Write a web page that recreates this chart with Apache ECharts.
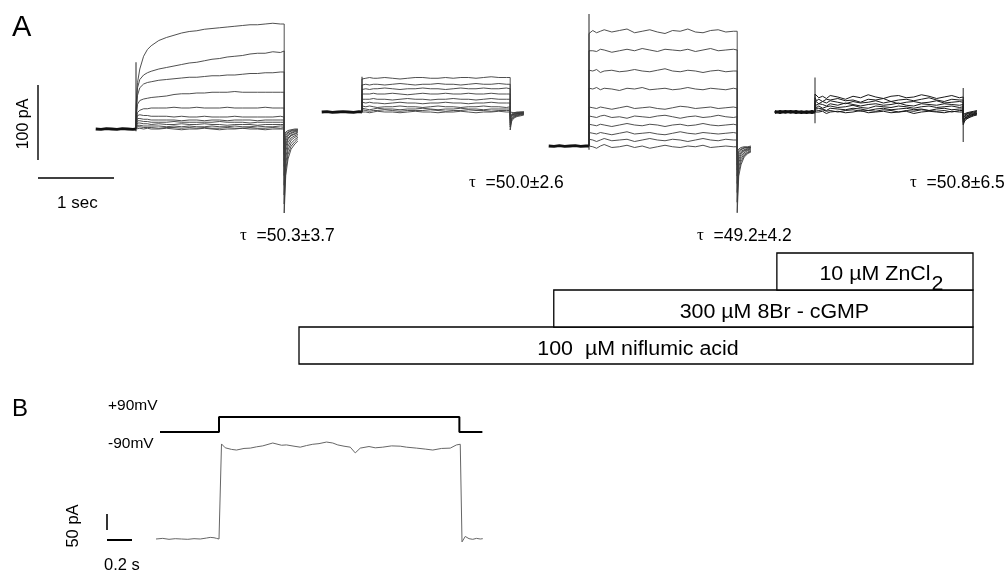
<!DOCTYPE html>
<html><head><meta charset="utf-8">
<script src="https://cdn.jsdelivr.net/npm/echarts@6/dist/echarts.min.js"></script>
<style>html,body{margin:0;padding:0;background:#fff;}#c{width:1004px;height:581px;}</style>
</head><body><div id="c"></div>
<script>
// ================= DATA =================
// Panel A time bases (s, 0 = start of the voltage pulse)
const PRE_T   = [-0.53, -0.46, -0.39, -0.32, -0.25, -0.18, -0.11, -0.04, 0];
const PULSE_T = [0, 0.02, 0.05, 0.1, 0.15, 0.2, 0.3, 0.4, 0.5, 0.6, 0.7, 0.8, 0.9, 1.0, 1.1, 1.2, 1.3, 1.4, 1.5, 1.6, 1.7, 1.8, 1.9, 1.95];
const TAIL_T  = [1.95, 1.97, 2.0, 2.04, 2.09, 2.13];

// A1 : control (pA)
const a1Pre = [0, -0.5, 0.5, 0, -0.5, 0.5, 0, -0.5, 0];
const a1Spike = [-3, 89];
const a1Pulse = [
  [30, 62, 80, 97, 106, 111, 118, 122, 125, 128, 130, 131, 133, 134, 135, 136, 137, 138, 139, 139, 140, 141, 140, 140],
  [20, 55, 66, 72, 75, 77, 80, 82, 84, 86, 88, 89, 91, 93, 94, 96, 97, 98, 100, 101, 101, 103, 102, 104],
  [15, 45, 55, 60, 62, 63, 65, 66, 67, 68, 69, 69, 70, 71, 71, 72, 72, 73, 74, 74, 75, 75, 76, 76],
  [10, 33, 38, 40, 41, 42, 43, 44, 46, 47, 47, 48, 48, 49, 49, 49, 50, 49, 49, 49, 49, 49, 49, 49],
  [8, 22, 25, 27, 27, 28, 28, 28, 29, 28, 28, 29, 28, 28, 28, 29, 28, 28, 28, 28, 29, 28, 28, 28],
  [5, 18, 19, 18, 18, 17, 17, 17, 16, 17, 16, 16, 17, 16, 16, 16, 17, 16, 16, 16, 16, 16, 17, 16],
  [4, 14, 14, 13, 13, 12, 12, 12, 12, 11, 12, 12, 11, 12, 12, 11, 12, 12, 12, 11, 12, 12, 12, 12],
  [3, 11, 11, 10, 10, 9, 9, 9, 10, 9, 9, 9, 9, 9, 10, 9, 9, 9, 8, 9, 9, 9, 9, 9],
  [2, 8, 8, 7, 7, 6, 7, 6, 6, 7, 6, 6, 7, 6, 6, 5, 6, 6, 6, 5, 6, 6, 6, 6],
  [1, 5, 5, 4, 4, 4, 4, 3, 4, 3, 4, 3, 3, 4, 3, 3, 4, 3, 3, 4, 3, 3, 4, 4],
  [0, 3, 3, 2, 2, 2, 1, 2, 2, 1, 2, 1, 2, 1, 1, 2, 1, 1, 2, 1, 1, 2, 1, 2],
  [0, 1, 1, 0, 1, 0, 0, 1, 0, -1, 0, 0, 1, 0, -1, 0, 0, 1, 0, 0, -1, 0, 0, 0]
];
const a1Tail = [
  [-112, -62, -40, -27, -20, -16], [-100, -55, -34, -23, -17, -13], [-88, -46, -28, -19, -14, -11],
  [-75, -38, -23, -15, -11, -9], [-62, -30, -18, -12, -9, -7], [-50, -24, -14, -9, -7, -5],
  [-42, -20, -12, -8, -6, -4], [-34, -16, -9, -6, -4, -3], [-26, -12, -7, -5, -3, -2],
  [-19, -9, -5, -3, -2, -1], [-13, -6, -4, -2, -1, -1], [-8, -4, -2, -1, 0, 0]
];

// A2 : niflumic acid
const a2Pre = [0, 0.5, -0.5, 0, 0.5, 0, -0.5, 0.5, 0];
const a2Spike = [-1, 47];
const a2Pulse = [
  [44, 45, 45, 46, 45, 45, 46, 45, 44, 45, 46, 46, 45, 45, 46, 45, 46, 46, 45, 46, 47, 46, 46, 46],
  [36, 37, 37, 36, 37, 37, 36, 37, 38, 37, 36, 37, 37, 38, 37, 37, 36, 37, 38, 37, 37, 38, 37, 37],
  [30, 31, 31, 30, 31, 31, 32, 31, 30, 31, 31, 32, 31, 31, 30, 31, 32, 31, 31, 32, 31, 31, 32, 31],
  [24, 25, 24, 24, 25, 24, 24, 25, 24, 23, 24, 25, 24, 24, 25, 24, 24, 25, 24, 24, 25, 24, 24, 24],
  [17, 18, 17, 17, 18, 17, 17, 16, 17, 18, 17, 17, 16, 17, 17, 18, 17, 17, 16, 17, 18, 17, 17, 17],
  [13, 12, 12, 13, 12, 12, 11, 12, 13, 12, 12, 11, 12, 12, 13, 12, 12, 11, 12, 12, 13, 12, 12, 12],
  [8, 7, 7, 8, 7, 6, 7, 7, 8, 7, 7, 6, 7, 8, 7, 7, 6, 7, 7, 8, 7, 7, 6, 7],
  [5, 4, 4, 3, 4, 5, 4, 4, 3, 4, 4, 5, 4, 3, 4, 4, 5, 4, 4, 3, 4, 4, 4, 4],
  [3, 2, 2, 1, 2, 2, 3, 2, 1, 2, 2, 2, 3, 2, 1, 2, 2, 3, 2, 2, 1, 2, 2, 2],
  [1, 0, 0, -1, 0, 1, 0, 0, -1, 0, 1, 0, 0, -1, 0, 0, 1, 0, -1, 0, 0, 1, 0, 0]
];
const a2Tail = [
  [-24, -12, -8, -6, -5, -4], [-20, -10, -7, -5, -4, -3], [-17, -9, -6, -4, -3, -3],
  [-14, -8, -5, -4, -3, -2], [-11, -6, -4, -3, -2, -2], [-9, -5, -3, -2, -2, -1],
  [-7, -4, -3, -2, -1, -1], [-5, -3, -2, -1, -1, 0], [-4, -2, -1, -1, 0, 0], [-2, -1, -1, 0, 0, 0]
];

// A3 : niflumic acid + 8Br-cGMP
const a3Pre = [0, -0.5, 0.5, -0.5, 0, 0.5, -0.5, 0, 0];
const a3Spike = [-5, 176];
const a3Pulse = [
  [150, 152, 154, 151, 153, 155, 152, 154, 156, 151, 153, 155, 152, 150, 154, 153, 156, 152, 151, 154, 155, 152, 153, 153],
  [127, 129, 127, 126, 129, 128, 125, 127, 129, 127, 130, 128, 126, 129, 128, 127, 129, 126, 128, 130, 127, 128, 129, 128],
  [101, 99, 100, 102, 98, 100, 101, 99, 100, 102, 100, 99, 101, 103, 100, 99, 101, 100, 98, 100, 101, 99, 100, 100],
  [77, 75, 76, 78, 75, 77, 76, 74, 77, 76, 78, 75, 76, 77, 75, 76, 78, 76, 75, 77, 76, 75, 77, 76],
  [52, 53, 51, 50, 52, 51, 49, 51, 53, 50, 51, 52, 50, 49, 51, 53, 52, 50, 51, 52, 50, 51, 52, 51],
  [40, 41, 39, 38, 40, 41, 38, 39, 37, 40, 39, 38, 40, 41, 39, 37, 39, 40, 38, 39, 41, 39, 38, 39],
  [29, 30, 28, 27, 29, 28, 26, 28, 30, 28, 27, 29, 28, 26, 28, 29, 27, 28, 30, 28, 27, 28, 29, 28],
  [18, 19, 17, 16, 18, 17, 15, 17, 19, 16, 17, 18, 16, 15, 17, 19, 17, 16, 18, 17, 16, 17, 18, 17],
  [9, 10, 8, 6, 8, 10, 7, 8, 9, 6, 8, 10, 8, 7, 9, 8, 6, 8, 10, 8, 7, 9, 8, 8],
  [0, 1, -1, -3, 0, 2, -2, -1, 1, -2, 0, -3, -1, 1, -1, -2, 0, -1, 1, -2, -1, 0, -1, -1]
];
const a3Tail = [
  [-89, -40, -25, -15, -10, -8], [-75, -34, -21, -13, -9, -7], [-62, -28, -17, -11, -8, -6],
  [-50, -22, -14, -9, -6, -5], [-40, -18, -11, -7, -5, -4], [-32, -14, -9, -6, -4, -3],
  [-25, -11, -7, -5, -3, -2], [-18, -8, -5, -3, -2, -2], [-12, -6, -4, -2, -2, -1], [-7, -4, -2, -1, -1, 0]
];

// A4 : + ZnCl2
const a4Pre = [[1, -1, 1, -0.5, 1, -1, 0.5, -1, 0], [-1, 1, -0.5, 1, -1, 0.5, -1, 1, 0]];
const a4Spike = [-15, 46];
const a4EndSpike = [32, -40];
const a4Pulse = [
  [24, 22, 19, 21, 18, 22, 20, 17, 21, 19, 23, 20, 18, 21, 22, 19, 20, 23, 21, 18, 20, 22, 19, 20],
  [19, 15, 17, 14, 17, 16, 18, 15, 16, 13, 17, 16, 18, 14, 16, 17, 15, 17, 19, 16, 14, 17, 16, 16],
  [15, 13, 11, 14, 12, 15, 13, 11, 14, 12, 13, 15, 12, 14, 11, 13, 14, 12, 13, 15, 12, 13, 14, 13],
  [12, 9, 11, 10, 8, 11, 9, 12, 10, 8, 10, 11, 9, 10, 12, 9, 8, 11, 10, 9, 11, 10, 9, 10],
  [9, 6, 8, 5, 7, 8, 6, 7, 9, 6, 5, 8, 7, 6, 8, 7, 5, 7, 8, 6, 7, 8, 6, 7],
  [5, 3, 5, 4, 2, 5, 4, 3, 5, 4, 2, 4, 5, 3, 4, 5, 3, 4, 2, 4, 5, 3, 4, 4],
  [3, 1, 2, 3, 1, 2, 0, 2, 3, 1, 2, 1, 3, 2, 0, 2, 1, 3, 2, 1, 2, 0, 2, 2],
  [1, -1, 0, 1, -2, 0, 1, -1, 0, 2, -1, 0, 1, -1, 0, 1, -2, 0, 1, 0, -1, 1, 0, 0]
];
const a4Tail = [
  [-17, -12, -9, -7, -5, -4], [-15, -10, -8, -6, -4, -3], [-13, -9, -7, -5, -3, -2], [-11, -8, -6, -4, -3, -2],
  [-9, -6, -5, -3, -2, -1], [-7, -5, -3, -2, -1, 0], [-5, -3, -2, -1, 0, 1], [-3, -2, -1, 0, 1, 2]
];

// Scale bars
const scaleA = {time: 1, current: 100};
const scaleB = {time: 0.2, current: 50};

// Panel B : voltage protocol and current
const bVoltT = [-0.472, 0, 0, 1.923, 1.923, 2.107];
const bVolt  = [-90, -90, 90, 90, -90, -90];
const bCurT = [-0.504, -0.45, -0.4, -0.35, -0.3, -0.25, -0.2, -0.15, -0.1, -0.07, -0.04, -0.02, 0, 0.02, 0.05, 0.1, 0.14, 0.2, 0.25, 0.3, 0.35, 0.43, 0.5, 0.54, 0.6, 0.65, 0.7, 0.75, 0.8, 0.86, 0.91, 0.95, 1.0, 1.05, 1.09, 1.13, 1.2, 1.25, 1.31, 1.38, 1.45, 1.5, 1.58, 1.65, 1.71, 1.78, 1.85, 1.9, 1.93, 1.944, 1.97, 2.0, 2.03, 2.06, 2.09, 2.11];
const bCur  = [0, 2, -1, 1, 0, -1, 1, 0, 3, 5, 4, 2, 0, 297, 285, 280, 278, 283, 284, 288, 291, 300, 293, 294, 290, 287, 292, 296, 298, 303, 300, 294, 290, 287, 269, 284, 289, 285, 287, 291, 290, 287, 284, 281, 278, 283, 284, 294, 296, -9, 8, 1, -1, 2, 0, 1];

// Drug application bars
const drugLabels = ['100  µM niflumic acid', '300 µM 8Br - cGMP', '10 µM ZnCl'];
const drugSubscripts = ['', '', '2'];
const drugStart = [0, 37.8, 70.9];
const drugEnd = [100, 100, 100];

// Texts
const panelLetters = ['A', 'B'];
const scaleLabelsA = ['1 sec', '100 pA'];
const scaleLabelsB = ['0.2 s', '50 pA'];
const tauLabels = ['=50.3±3.7', '=50.0±2.6', '=49.2±4.2', '=50.8±6.5'];
const voltLabels = ['+90mV', '-90mV'];

// ================= LAYOUT / RENDER =================
const FONT = '"Liberation Sans", Arial, Helvetica, sans-serif';
const SX = 76, SY = 0.75;        // panel A: px per s, px per pA
const SXB = 125, SYB = 0.32;     // panel B current
const SYV = 15 / 180;            // panel B voltage px per mV

const grids = [], xAxes = [], yAxes = [], series = [];
function addGrid(left, top, width, height, xmin, xmax, ymin, ymax) {
  grids.push({left, top, width, height, containLabel: false, outerBoundsMode: 'none', show: false});
  const i = grids.length - 1;
  xAxes.push({type: 'value', gridIndex: i, min: xmin, max: xmax, show: false});
  yAxes.push({type: 'value', gridIndex: i, min: ymin, max: ymax, show: false});
  return i;
}
function addLine(g, data, color, width) {
  series.push({type: 'line', xAxisIndex: g, yAxisIndex: g, data, showSymbol: false, symbol: 'none',
    clip: false, silent: true, animation: false, lineStyle: {color, width}, z: 2});
}
function zipT(ts, vs) { return ts.map((t, i) => [t, vs[i]]); }

// Panel A grids: anchored at pulse start (x) and zero-current level (y)
const panelsA = [
  {stepX: 136, baseY: 129, pre: [a1Pre], spike: a1Spike, pulse: a1Pulse, tail: a1Tail, color: '#3c3c3c', w: 0.9},
  {stepX: 362, baseY: 112, pre: [a2Pre], spike: a2Spike, pulse: a2Pulse, tail: a2Tail, color: '#3c3c3c', w: 0.9},
  {stepX: 589, baseY: 146, pre: [a3Pre], spike: a3Spike, pulse: a3Pulse, tail: a3Tail, color: '#3c3c3c', w: 0.9},
  {stepX: 815, baseY: 112, pre: a4Pre, spike: a4Spike, pulse: a4Pulse, tail: a4Tail, color: '#1a1a1a', w: 1, endSpike: a4EndSpike}
];
panelsA.forEach(p => {
  const H = 250;
  const g = addGrid(p.stepX - 0.6 * SX, 0, 2.9 * SX, H, -0.6, 2.3, (p.baseY - H) / SY, p.baseY / SY);
  p.pulse.forEach((vals, k) => {
    const pts = [[0, 0]].concat(zipT(PULSE_T, vals)).concat(zipT(TAIL_T, p.tail[k]));
    addLine(g, pts, p.color, p.w);
  });
  p.pre.forEach(v => addLine(g, zipT(PRE_T, v), '#111', 2.8));
  addLine(g, [[0, p.spike[0]], [0, p.spike[1]]], '#222', 1);
  if (p.endSpike) addLine(g, [[PULSE_T[PULSE_T.length - 1], p.endSpike[0]], [PULSE_T[PULSE_T.length - 1], p.endSpike[1]]], '#222', 1);
});

// Scale bars A (origin at x=38, y=178)
const gSA = addGrid(38 - 0.1 * SX, 60, 1.3 * SX, 130, -0.1, 1.2, (178 - 190) / SY, (178 - 60) / SY);
addLine(gSA, [[0, 0], [scaleA.time, 0]], '#000', 1.4);
addLine(gSA, [[0, 24], [0, 24 + scaleA.current]], '#000', 1.4);

// Panel B voltage
const gV = addGrid(219 - 0.6 * SXB, 405, 2.9 * SXB, 40, -0.6, 2.3, -(445 - 424.5) / SYV, (424.5 - 405) / SYV);
addLine(gV, zipT(bVoltT, bVolt), '#000', 2);
// Panel B current
const gB = addGrid(219 - 0.6 * SXB, 420, 2.9 * SXB, 140, -0.6, 2.3, (539 - 560) / SYB, (539 - 420) / SYB);
addLine(gB, zipT(bCurT, bCur), '#666', 1);
// Scale bars B (origin x=107, y=540)
const gSB = addGrid(107 - 0.1 * SXB, 500, 0.4 * SXB, 50, -0.1, 0.3, (540 - 550) / SYB, (540 - 500) / SYB);
addLine(gSB, [[0, 0], [scaleB.time, 0]], '#000', 2);
addLine(gSB, [[0, 31], [0, 31 + scaleB.current]], '#000', 1.6);

// Drug bars
const gD = addGrid(299, 253, 674, 111, 0, 100, 0, 3);
const measureCtx = document.createElement('canvas').getContext('2d');
function textW(t, font) { measureCtx.font = font; return measureCtx.measureText(t).width; }
const labelDx = [2, 11, 6];
const BOXFONT_SIZE = 20, BOX_SCALEX = 1.07;
series.push({
  type: 'custom', xAxisIndex: gD, yAxisIndex: gD, silent: true, animation: false, clip: false,
  data: drugStart.map((s, i) => [s, drugEnd[i], i]),
  renderItem(params, api) {
    const i = params.dataIndex;
    const p0 = api.coord([api.value(0), api.value(2) + 1]);
    const p1 = api.coord([api.value(1), api.value(2)]);
    const cx = (p0[0] + p1[0]) / 2 + labelDx[i];
    const cy = (p0[1] + p1[1]) / 2 + 4;
    const font = BOXFONT_SIZE + 'px ' + FONT;
    const children = [{type: 'rect', shape: {x: p0[0], y: p0[1], width: p1[0] - p0[0], height: p1[1] - p0[1]},
      style: {fill: '#fff', stroke: '#000', lineWidth: 1.3}}];
    const main = drugLabels[i], sub = drugSubscripts[i];
    if (!sub) {
      children.push({type: 'text', x: cx, y: cy, scaleX: BOX_SCALEX,
        style: {text: main, font, fill: '#000', align: 'center', verticalAlign: 'middle'}});
    } else {
      const wm = textW(main, font) * BOX_SCALEX, ws = textW(sub, font) * BOX_SCALEX;
      const x0 = cx - (wm + ws) / 2 + wm;
      children.push({type: 'text', x: x0, y: cy - 1, scaleX: BOX_SCALEX,
        style: {text: main, font, fill: '#000', align: 'right', verticalAlign: 'middle'}});
      children.push({type: 'text', x: x0 + 1, y: cy + 9, scaleX: BOX_SCALEX,
        style: {text: sub, font, fill: '#000', align: 'left', verticalAlign: 'middle'}});
    }
    return {type: 'group', children};
  }
});

// Text annotations
function T(text, x, y, size, opt) {
  opt = opt || {};
  return {type: 'text', x, y, rotation: opt.rot ? Math.PI / 2 : 0, silent: true, z: 10,
    style: {text, font: size + 'px ' + FONT, fill: '#000',
      align: opt.align || (opt.rot ? 'center' : 'left'), textAlign: opt.align || (opt.rot ? 'center' : 'left'),
      verticalAlign: 'middle', textVerticalAlign: 'middle', rich: opt.rich}};
}
const tauPos = [[240, 236], [469, 183], [697, 236], [910, 183]];
const tauRich = {t: {fontFamily: '"Liberation Serif", serif', fontSize: 17}, v: {fontFamily: FONT, fontSize: 17.5}};
const elements = [
  T(panelLetters[0], 12, 28, 29),
  T(panelLetters[1], 12, 409, 24),
  T(scaleLabelsA[0], 57, 203, 17),
  T(scaleLabelsA[1], 24, 124, 16, {rot: true}),
  T(scaleLabelsB[0], 104, 565, 16.5),
  T(scaleLabelsB[1], 73, 526, 16.5, {rot: true}),
  T(voltLabels[0], 108, 406, 15.5),
  T(voltLabels[1], 108, 444, 15.5)
];
tauLabels.forEach((s, i) => elements.push(T('{t|τ}{v|  ' + s + '}', tauPos[i][0], tauPos[i][1], 17.5, {rich: tauRich})));

const chart = echarts.init(document.getElementById('c'), null, {renderer: 'canvas'});
chart.setOption({
  animation: false,
  backgroundColor: '#fff',
  grid: grids, xAxis: xAxes, yAxis: yAxes, series,
  graphic: {elements}
});
</script></body></html>
